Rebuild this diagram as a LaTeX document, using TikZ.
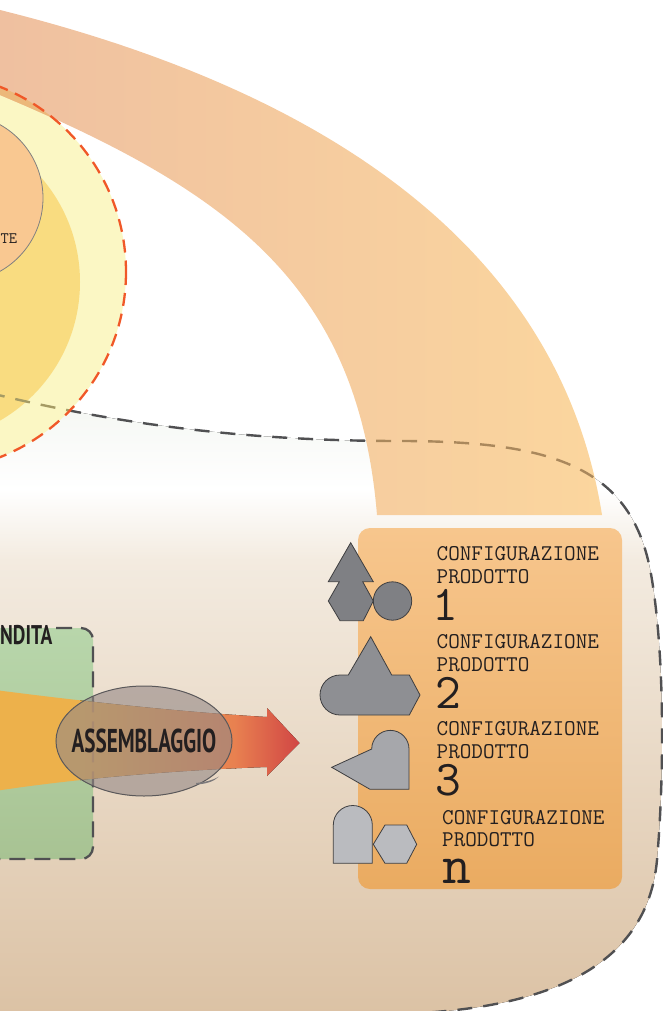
\documentclass[tikz,border=0pt]{standalone}
\usepackage{fontspec}
\usepackage{graphicx}
\newfontfamily\handfont{PT Sans}
\usetikzlibrary{shapes.geometric}

\definecolor{bgtop}{RGB}{242,245,240}
\definecolor{bgmid}{RGB}{243,235,224}
\definecolor{bgbot}{RGB}{219,193,163}
\definecolor{dashgrey}{RGB}{80,80,82}
\definecolor{dashbrown}{RGB}{170,136,92}
\definecolor{dasholive}{RGB}{165,155,100}
\definecolor{paleyellow}{RGB}{251,247,196}
\definecolor{sunyellow}{RGB}{249,220,128}
\definecolor{peach}{RGB}{249,200,145}
\definecolor{redorange}{RGB}{240,88,40}
\definecolor{bandleft}{RGB}{239,192,160}
\definecolor{bandright}{RGB}{251,214,158}
\definecolor{bandover}{RGB}{236,184,122}
\definecolor{greentop}{RGB}{184,214,171}
\definecolor{greenbot}{RGB}{168,195,147}
\definecolor{arrowA}{RGB}{237,177,75}
\definecolor{arrowB}{RGB}{232,128,80}
\definecolor{arrowC}{RGB}{208,68,68}
\definecolor{ghostedge}{RGB}{205,145,80}
\definecolor{ellgrey}{RGB}{148,136,134}
\definecolor{elledge}{RGB}{90,88,90}
\definecolor{boxtop}{RGB}{247,198,141}
\definecolor{boxbot}{RGB}{234,171,97}
\definecolor{inkdark}{RGB}{35,31,32}
\definecolor{iconedge}{RGB}{62,62,64}
\definecolor{shapeA}{RGB}{127,128,132}
\definecolor{shapeB}{RGB}{142,143,147}
\definecolor{shapeC}{RGB}{166,167,171}
\definecolor{shapeD}{RGB}{186,187,191}

% one configuration entry: two caption lines and a big index
\newcommand{\cfgentry}[2]{%
  \vbox{\offinterlineskip\fontsize{22.5}{22.5}\selectfont
    \hbox{CONFIGURAZIONE}\kern8.4pt
    \hbox{PRODOTTO}\kern5.5pt
    \hbox{\kern#2\fontsize{50}{50}\selectfont #1}}}

\begin{document}
\begin{tikzpicture}[x=1pt,y=-1pt,
  greydash/.style={draw=dashgrey, line width=2.4pt, dash pattern=on 15pt off 11pt},
  reddash/.style={draw=redorange, line width=2.3pt, dash pattern=on 13pt off 8pt},
  boxdash/.style={draw=dashgrey, line width=2.3pt, dash pattern=on 16pt off 9pt},
  icon/.style={draw=iconedge, line width=0.8pt},
  cfgblock/.style={anchor=north west, inner sep=0pt, text=inkdark, font=\ttfamily},
  hand/.style={inner sep=0pt, text=inkdark}]

\useasboundingbox (0,0) rectangle (663,1011);

% ---------- shaded region with dashed outline ----------
\path[save path=\bgshape] (-10,393) .. controls (120,425) and (250,441) .. (400,441)
  .. controls (560,441) and (635,470) .. (652,580)
  .. controls (665,660) and (664,780) .. (657,860)
  .. controls (648,960) and (560,1005) .. (420,1013)
  -- (-10,1020) -- cycle;
\begin{scope}
  \clip[use path=\bgshape];
  \fill[top color=bgtop, bottom color=white] (-20,380) rectangle (690,490);
  \fill[top color=white, bottom color=bgmid] (-20,489.5) rectangle (690,560);
  \fill[top color=bgmid, bottom color=bgbot] (-20,559.5) rectangle (690,1025);
\end{scope}
\draw[greydash, use path=\bgshape];

% ---------- nested circles at the left ----------
\fill[paleyellow] (-73,272) circle (199);
\fill[sunyellow] (-80,282) circle (160);
\begin{scope}
  \clip (-73,272) circle (199);
  \draw[greydash, draw=dasholive, use path=\bgshape];
\end{scope}
\filldraw[fill=peach, draw=gray, line width=0.8pt] (-41,198) circle (84);
\node[anchor=base west, inner sep=0pt, text=inkdark,
  font=\ttfamily\fontsize{16}{16}\selectfont] (cliente) at (0.5,243) {TE};

% ---------- large curved band ----------
\shade[left color=bandleft, right color=bandright]
  (0,10) .. controls (330,92) and (560,250) .. (602,515)
  -- (377,515) .. controls (358,285) and (230,191.6) .. (0,95) -- cycle;
\path[save path=\bandshape] (0,10) .. controls (330,92) and (560,250) .. (602,515)
  -- (377,515) .. controls (358,285) and (230,191.6) .. (0,95) -- cycle;
\begin{scope}
  \clip[use path=\bandshape];
  \fill[bandover] (-73,272) circle (199);
  \draw[greydash, draw=dashbrown, use path=\bgshape];
\end{scope}
\draw[reddash] (-73,272) circle (199);

% ---------- green box ----------
\shade[top color=greentop, bottom color=greenbot, rounded corners=12pt]
  (-20,628) rectangle (93,859);
\path[save path=\greenedge] (56,628) -- (81,628)
  arc[start angle=270, end angle=360, radius=12]
  -- (93,847) arc[start angle=0, end angle=90, radius=12] -- (-15,859);
\draw[boxdash, use path=\greenedge];
\node[hand, anchor=base west] (vendita) at (0,644)
  {\handfont\bfseries\fontsize{27}{27}\selectfont\scalebox{0.72}[1]{NDITA}};

% ---------- arrow ----------
\path[save path=\arrowshape] (-5,690) .. controls (80,701) and (180,712) .. (267,717)
  -- (267,708) -- (299.5,743) -- (267,776) -- (267,767)
  .. controls (180,770) and (80,778) .. (-5,791) -- cycle;
\begin{scope}
  \clip[use path=\arrowshape];
  \fill[arrowA] (-10,680) rectangle (81,800);
  \fill[left color=arrowA, right color=arrowB] (80,680) rectangle (236,800);
  \fill[left color=arrowB, right color=arrowC] (235,680) rectangle (302,800);
  \draw[boxdash, draw=ghostedge, use path=\greenedge];
\end{scope}

% ---------- assembly ellipse ----------
\node[ellipse, draw=elledge, line width=1pt, fill=ellgrey, fill opacity=0.6,
  draw opacity=1, minimum width=176pt, minimum height=110pt, inner sep=0pt]
  (assembly) at (144,741) {};
\fill[elledge!80] (196,783) .. controls (206,782) and (213,780) .. (219,776.5)
  .. controls (214,781.5) and (206,784) .. (196,784.5) -- cycle;
\node[hand] (assemblytext) at (assembly.center)
  {\handfont\bfseries\fontsize{33}{33}\selectfont\scalebox{0.64}[1]{ASSEMBLAGGIO}};

% ---------- configurations box ----------
\shade[top color=boxtop, bottom color=boxbot, rounded corners=12pt]
  (358,528) rectangle (622,889);

% icon 1: arrow-tree and disc
\filldraw[icon, fill=shapeA] (350.7,542.7) -- (373.3,581.7) -- (362.7,581.7)
  -- (373.3,601) -- (363.3,620.7) -- (340,620.7) -- (328.3,601)
  -- (339.3,581.7) -- (328.3,581.7) -- cycle;
\filldraw[icon, fill=shapeA] (392.5,601) circle (19.2);

% icon 2: peak over rounded base
\filldraw[icon, fill=shapeB] (370.7,636.7) -- (391.7,675) -- (409.3,675)
  -- (420,695) -- (409.3,715) -- (340,715)
  arc[start angle=90, end angle=270, radius=20] -- (348.3,675) -- cycle;

% icon 3: wedge with arch
\filldraw[icon, fill=shapeC] (331.7,767.3) -- (371.7,749)
  arc[start angle=180, end angle=360, radius=18.65]
  -- (409,789.3) -- (370,789.3) -- cycle;

% icon 4: arch and hexagon
\filldraw[icon, fill=shapeD] (333.3,863.3) -- (333.3,825)
  arc[start angle=180, end angle=360, radius=19.5] -- (372.3,863.3) -- cycle;
\filldraw[icon, fill=shapeD] (373.3,844.3) -- (385,825) -- (406.7,825)
  -- (416.7,844.3) -- (406.7,863.3) -- (385,863.3) -- cycle;

% labels
\node[cfgblock] (cfg1) at (436.5,546.3) {\cfgentry{1}{-4pt}};
\node[cfgblock] (cfg2) at (436.5,634.3) {\cfgentry{2}{-1.5pt}};
\node[cfgblock] (cfg3) at (436.5,721.3) {\cfgentry{3}{-1.5pt}};
\node[cfgblock] (cfgn) at (442,810.3)
  {\vbox{\offinterlineskip\fontsize{22.5}{22.5}\selectfont
    \hbox{CONFIGURAZIONE}\kern7.4pt
    \hbox{PRODOTTO}\kern12pt
    \hbox{\fontsize{56}{56}\selectfont n}}};

\end{tikzpicture}
\end{document}
